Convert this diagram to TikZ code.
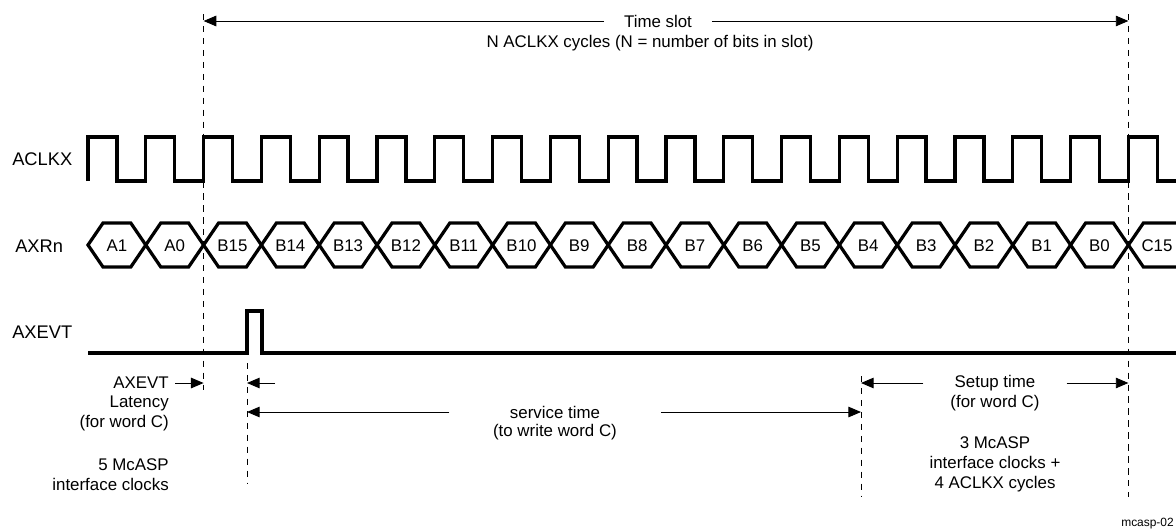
\documentclass[tikz,border=0pt]{standalone}
\usepackage{fontspec}
\setmainfont{Liberation Sans}
\usetikzlibrary{arrows.meta}

\begin{document}
\begin{tikzpicture}[
      x=0.025cm, y=-0.025cm,
      signal/.style={line width=2.3pt, line join=miter},
      guide/.style={line width=0.6pt, dash pattern=on 4.5pt off 4pt},
      dim/.style={-{Triangle[length=9pt, width=7.5pt]}, line width=0.7pt},
      lbl/.style={font=\fontsize{12}{14.2}\selectfont, inner sep=0pt},
      signame/.style={font=\fontsize{13}{15}\selectfont, inner sep=0pt, anchor=west}
    ]
      \useasboundingbox (0,0) rectangle (1176,529);

      % signal names
      \node[signame] (clk) at (12,159) {ACLKX};
      \node[signame] (data) at (15,246) {AXRn};
      \node[signame] (evt) at (12,332) {AXEVT};

      % ACLKX
      \draw[signal] (88,181) -- (88,137)
        \foreach \k in {0,...,17} { -- ++(28.9,0) -- ++(0,44) -- ++(28.9,0) -- ++(0,-44) }
        -- ++(28.9,0) -- ++(0,44) -- (1176,181);

      % AXRn
      \foreach \lab [count=\k from 0] in {A1,A0,B15,B14,B13,B12,B11,B10,B9,B8,B7,B6,B5,B4,B3,B2,B1,B0} {
        \pgfmathsetmacro\xa{88+\k*57.8}
        \pgfmathsetmacro\xb{\xa+57.8}
        \draw[signal] (\xa,245) -- (\xa+15,223) -- (\xb-15,223) -- (\xb,245) -- (\xb-15,267) -- (\xa+15,267) -- cycle;
        \node[lbl] (bit\k) at (\xa+28.9,246) {\lab};
      }
      \draw[signal] (1176,223) -- (1143.4,223) -- (1128.4,245) -- (1143.4,267) -- (1176,267);
      \node[lbl] (bit18) at (1157,246) {C15};

      % AXEVT
      \draw[signal] (88,353) -- (247,353) -- (247,311) -- (262,311) -- (262,353) -- (1176,353);

      % guide lines
      \coordinate (slotL) at (203.6,14);
      \coordinate (slotLend) at (203.6,390);
      \coordinate (slotR) at (1128.4,14);
      \coordinate (slotRend) at (1128.4,497);
      \coordinate (evtL) at (247,363);
      \coordinate (evtLend) at (247,483);
      \coordinate (srvR) at (861,376);
      \coordinate (srvRend) at (861,497);
      \draw[guide] (slotL) -- (slotLend);
      \draw[guide] (slotR) -- (slotRend);
      \draw[guide] (evtL) -- (evtLend);
      \draw[guide] (srvR) -- (srvRend);

      % time slot
      \node[lbl, inner xsep=14pt] (slot) at (658,21) {Time slot};
      \node[lbl] (slotnote) at (650,43) {N ACLKX cycles (N = number of bits in slot)};
      \draw[dim] (slot.west) -- (slotL |- slot.west);
      \draw[dim] (slot.east) -- (slotR |- slot.east);

      % latency
      \node[lbl, anchor=east, inner xsep=4.3pt] (latname) at (175,383) {AXEVT};
      \node[lbl, anchor=east, align=right] (latnote) at (169,413) {Latency\\(for word C)};
      \node[lbl, anchor=east, align=right] (latclk) at (169,475) {5 McASP\\interface clocks};
      \draw[dim] (latname.east) -- (slotL |- latname.east);
      \coordinate (evttail) at (275,383);
      \draw[dim] (evttail) -- (evtL |- evttail);

      % service time
      \node[lbl, inner xsep=43pt] (srv) at (555,412) {service time};
      \node[lbl] (srvnote) at (555,432) {(to write word C)};
      \draw[dim] (srv.west) -- (evtL |- srv.west);
      \draw[dim] (srv.east) -- (srvR |- srv.east);

      % setup time
      \node[lbl, inner xsep=22pt] (setup) at (995,383) {Setup time};
      \node[lbl] (setupnote) at (995,403) {(for word C)};
      \node[lbl, align=center] (setupclk) at (995,464) {3 McASP\\interface clocks +\\4 ACLKX cycles};
      \draw[dim] (setup.west) -- (srvR |- setup.west);
      \draw[dim] (setup.east) -- (slotR |- setup.east);

      \node[font=\fontsize{8.5}{10}\selectfont, inner sep=0pt, anchor=base west] (figid) at (1121,526) {mcasp-02};
    \end{tikzpicture}
\end{document}
